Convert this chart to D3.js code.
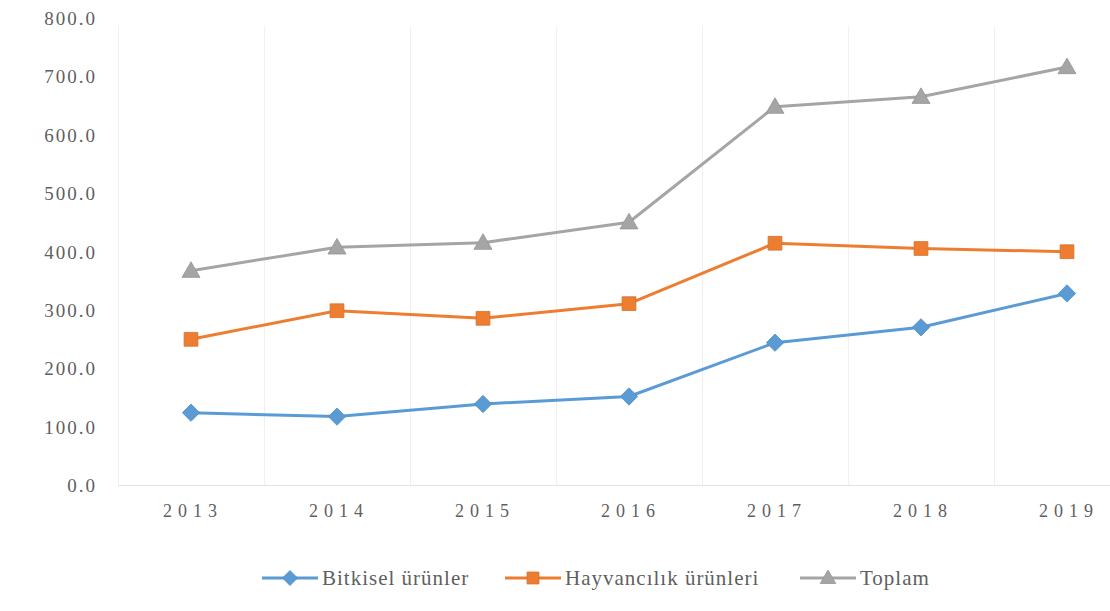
<!DOCTYPE html>
<html>
<head>
<meta charset="utf-8">
<script src="https://cdn.jsdelivr.net/npm/d3@7"></script>
<style>
  body { margin: 0; background: #fff; }
</style>
</head>
<body>
<div id="chart"></div>
<script>
const years = ["2013", "2014", "2015", "2016", "2017", "2018", "2019"];
const bitkisel = [124.7, 118.0, 139.6, 152.5, 244.6, 271.0, 329.0];
const hayvancilik = [250.4, 299.4, 286.4, 311.5, 415.0, 406.0, 400.5];
const toplam = [368.0, 408.0, 416.0, 451.0, 649.0, 666.0, 717.0];
const yTicks = [0, 100, 200, 300, 400, 500, 600, 700, 800];
const seriesNames = ["Bitkisel ürünler", "Hayvancılık ürünleri", "Toplam"];

const width = 1110, height = 611;
const colors = ["#5B9BD5", "#ED7D31", "#A5A5A5"];
const fontFam = "'Times New Roman', Times, 'Liberation Serif', 'Noto Serif', 'DejaVu Serif', serif";

// square rotated 45deg for the diamond marker
const diamond = {
    draw(ctx, size) {
        const r = Math.sqrt(size / 2);
        ctx.moveTo(0, -r);
        ctx.lineTo(r, 0);
        ctx.lineTo(0, r);
        ctx.lineTo(-r, 0);
        ctx.closePath();
    }
};
const shapes = [diamond, d3.symbolSquare, d3.symbolTriangle];
const shapeSizes = [150, 190, 140];

const svg = d3.select("#chart")
    .append("svg")
    .attr("width", width)
    .attr("height", height)
    .style("font-family", fontFam);

const x = d3.scaleBand()
    .domain(years)
    .range([118, 1140])
    .paddingInner(0)
    .paddingOuter(0);

const y = d3.scaleLinear()
    .domain([0, 800])
    .range([485.5, 18.5]);

// faint vertical grid at category boundaries
svg.append("g")
    .selectAll("line")
    .data(years)
    .enter()
    .append("line")
    .attr("x1", d => x(d) + 0.5)
    .attr("x2", d => x(d) + 0.5)
    .attr("y1", y(800) + 8)
    .attr("y2", y(0))
    .attr("stroke", "#f0f0f0")
    .attr("stroke-width", 1);

// baseline
svg.append("line")
    .attr("x1", 118)
    .attr("x2", width)
    .attr("y1", y(0))
    .attr("y2", y(0))
    .attr("stroke", "#e3e3e3")
    .attr("stroke-width", 1.2);

// y labels
svg.append("g")
    .selectAll("text")
    .data(yTicks)
    .enter()
    .append("text")
    .attr("x", 97)
    .attr("y", d => y(d) + 6.5)
    .attr("text-anchor", "end")
    .style("font-family", fontFam)
    .attr("font-size", 19)
    .attr("letter-spacing", 2)
    .attr("fill", "#5f5f5f")
    .text(d => d3.format(".1f")(d));

// x labels
svg.append("g")
    .selectAll("text")
    .data(years)
    .enter()
    .append("text")
    .attr("x", d => x(d) + x.bandwidth() / 2 + 2)
    .attr("y", 517)
    .attr("text-anchor", "middle")
    .style("font-family", fontFam)
    .attr("font-size", 18)
    .attr("letter-spacing", 6)
    .attr("fill", "#5f5f5f")
    .text(d => d);

const allSeries = [bitkisel, hayvancilik, toplam];

const line = d3.line()
    .x((d, i) => x(years[i]) + x.bandwidth() / 2)
    .y(d => y(d));

// draw Toplam first, then others on top
[2, 1, 0].forEach(k => {
    const g = svg.append("g");
    g.append("path")
        .datum(allSeries[k])
        .attr("fill", "none")
        .attr("stroke", colors[k])
        .attr("stroke-width", 3)
        .attr("stroke-linejoin", "round")
        .attr("d", line);

    g.selectAll("path.marker")
        .data(allSeries[k])
        .enter()
        .append("path")
        .attr("class", "marker")
        .attr("d", d3.symbol().type(shapes[k]).size(shapeSizes[k]))
        .attr("transform", (d, i) => `translate(${x(years[i]) + x.bandwidth() / 2},${y(d) + (k === 2 ? 1.5 : 0)})`)
        .attr("fill", colors[k])
        .attr("stroke", d3.color(colors[k]).darker(0.3))
        .attr("stroke-width", 0.8);
});

// legend
const legendItems = [
    { name: seriesNames[0], x: 262 },
    { name: seriesNames[1], x: 505 },
    { name: seriesNames[2], x: 800 }
];
const legendY = 578;

const legend = svg.append("g")
    .selectAll("g")
    .data(legendItems)
    .enter()
    .append("g")
    .attr("transform", d => `translate(${d.x},${legendY})`);

legend.append("line")
    .attr("x1", 0)
    .attr("x2", 56)
    .attr("stroke", (d, i) => colors[i])
    .attr("stroke-width", 3);

legend.append("path")
    .attr("d", (d, i) => d3.symbol().type(shapes[i]).size(shapeSizes[i] * 0.75)())
    .attr("transform", (d, i) => `translate(28,${i === 2 ? 1 : 0})`)
    .attr("fill", (d, i) => colors[i])
    .attr("stroke", (d, i) => d3.color(colors[i]).darker(0.3))
    .attr("stroke-width", 0.8);

legend.append("text")
    .attr("x", 60)
    .attr("y", 7)
    .style("font-family", fontFam)
    .attr("font-size", 21)
    .attr("letter-spacing", 1)
    .attr("fill", "#5f5f5f")
    .text(d => d.name);
</script>
</body>
</html>
